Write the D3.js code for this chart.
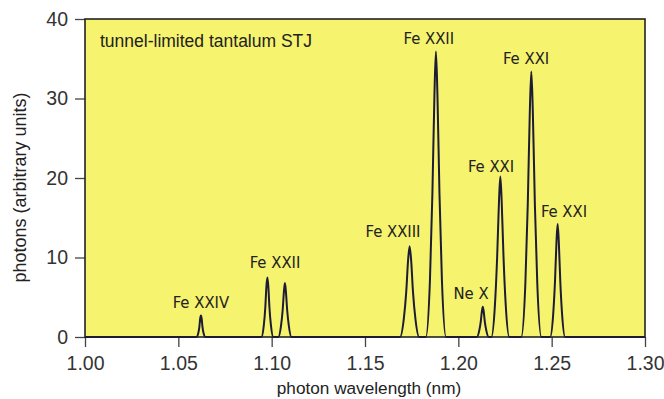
<!DOCTYPE html>
<html>
<head>
<meta charset="utf-8">
<script src="https://cdn.jsdelivr.net/npm/d3@7"></script>
<style>
    body { margin: 0; background: #ffffff; }
    svg { display: block; font-family: "Liberation Sans", Arial, sans-serif; }
</style>
</head>
<body>
<div id="chart"></div>
<script>
    // spectrum points (nm, arbitrary units)
    let wavelength = [
        1.0000,
        1.0597, 1.0607, 1.0613, 1.0617, 1.0621, 1.0625, 1.0629, 1.0635, 1.0645,
        1.0945, 1.0958, 1.0966, 1.0972, 1.0977, 1.0982, 1.0988, 1.0996, 1.1009,
        1.1036, 1.1050, 1.1059, 1.1066, 1.1071, 1.1076, 1.1083, 1.1092, 1.1106,
        1.1688, 1.1708, 1.1721, 1.1731, 1.1739, 1.1747, 1.1757, 1.1770, 1.1790,
        1.1826, 1.1848, 1.1861, 1.1872, 1.1880, 1.1888, 1.1899, 1.1912, 1.1934,
        1.2099, 1.2112, 1.2120, 1.2126, 1.2131, 1.2136, 1.2142, 1.2150, 1.2163,
        1.2177, 1.2196, 1.2208, 1.2218, 1.2225, 1.2232, 1.2242, 1.2254, 1.2273,
        1.2337, 1.2359, 1.2372, 1.2383, 1.2391, 1.2399, 1.2410, 1.2423, 1.2445,
        1.2492, 1.2508, 1.2518, 1.2526, 1.2532, 1.2538, 1.2546, 1.2556, 1.2572,
        1.3000
    ];
    let photons = [
        0,
        0, 0.5, 1.35, 2.3, 2.7, 2.3, 1.35, 0.5, 0,
        0, 1.5, 3.75, 6.4, 7.5, 6.4, 3.75, 1.5, 0,
        0, 1.4, 3.4, 5.8, 6.8, 5.8, 3.4, 1.4, 0,
        0, 2.3, 5.7, 9.7, 11.4, 9.7, 5.7, 2.3, 0,
        0, 7.2, 18, 30.5, 35.9, 30.5, 18, 7.2, 0,
        0, 0.8, 1.9, 3.2, 3.8, 3.2, 1.9, 0.8, 0,
        0, 4, 10.1, 17.2, 20.2, 17.2, 10.1, 4, 0,
        0, 6.7, 16.7, 28.4, 33.4, 28.4, 16.7, 6.7, 0,
        0, 2.8, 7.1, 12.1, 14.2, 12.1, 7.1, 2.8, 0,
        0
    ];

    // line labels and where they sit (label centre, baseline)
    let lineNames = ['Fe XXIV', 'Fe XXII', 'Fe XXIII', 'Fe XXII', 'Ne X', 'Fe XXI', 'Fe XXI', 'Fe XXI'];
    let lineLabelX = [1.0621, 1.1018, 1.1650, 1.1842, 1.2068, 1.2175, 1.2363, 1.2566];
    let lineLabelY = [3.65, 8.64, 12.54, 36.8, 4.74, 20.8, 34.4, 15.1];

    let xTicks = [1.00, 1.05, 1.10, 1.15, 1.20, 1.25, 1.30];
    let yTicks = [0, 10, 20, 30, 40];

    let title = 'tunnel-limited tantalum STJ';
    let xTitle = 'photon wavelength (nm)';
    let yTitle = 'photons (arbitrary units)';

    let width = 664;
    let height = 399;
    let margin = { top: 19, right: 19, bottom: 62, left: 85 };
    let innerW = width - margin.left - margin.right;
    let innerH = height - margin.top - margin.bottom;

    let svg = d3.select('#chart').append('svg')
        .attr('width', width)
        .attr('height', height);

    let g = svg.append('g')
        .attr('transform', 'translate(' + margin.left + ',' + margin.top + ')');

    let xScale = d3.scaleLinear()
        .domain([1.00, 1.30])
        .range([0, innerW]);
    let yScale = d3.scaleLinear()
        .domain([0, 40])
        .range([innerH, 0]);

    g.append('rect')
        .attr('x', 0)
        .attr('y', 0)
        .attr('width', innerW)
        .attr('height', innerH)
        .style('fill', '#f6f36e');

    let xAxis = d3.axisBottom(xScale)
        .tickValues(xTicks)
        .tickSize(10)
        .tickPadding(9)
        .tickFormat(d3.format('.2f'));
    let yAxis = d3.axisLeft(yScale)
        .tickValues(yTicks)
        .tickSize(10)
        .tickPadding(7)
        .tickFormat(d3.format('d'));

    let gx = g.append('g')
        .attr('transform', 'translate(0,' + innerH + ')')
        .call(xAxis);
    let gy = g.append('g')
        .call(yAxis);

    [gx, gy].forEach(function (axis) {
        axis.select('.domain').remove();
        axis.selectAll('.tick line')
            .style('stroke', '#444')
            .style('stroke-width', 1.3);
        axis.selectAll('.tick text')
            .style('font-size', '19.5px')
            .style('fill', '#333');
    });

    // frame round the plot area
    g.append('rect')
        .attr('x', 0)
        .attr('y', 0)
        .attr('width', innerW)
        .attr('height', innerH)
        .style('fill', 'none')
        .style('stroke', '#222')
        .style('stroke-width', 1.6);

    let spectrum = wavelength.map(function (w, i) {
        return { x: w, y: photons[i] };
    });

    let line = d3.line()
        .x(function (d) { return xScale(d.x); })
        .y(function (d) { return yScale(d.y); })
        .curve(d3.curveMonotoneX);

    g.append('path')
        .datum(spectrum)
        .attr('d', line)
        .style('fill', 'none')
        .style('stroke', '#1c1c34')
        .style('stroke-width', 2)
        .style('stroke-linejoin', 'round');

    g.selectAll('.line-label')
        .data(lineNames)
        .enter()
        .append('text')
        .attr('class', 'line-label')
        .attr('x', function (d, i) { return xScale(lineLabelX[i]); })
        .attr('y', function (d, i) { return yScale(lineLabelY[i]); })
        .attr('text-anchor', 'middle')
        .style('font-family', '"DejaVu Sans Condensed", sans-serif')
        .style('font-size', '16.5px')
        .style('fill', '#222')
        .text(function (d) { return d; });

    g.append('text')
        .attr('x', 15)
        .attr('y', 27.5)
        .style('font-size', '17.5px')
        .style('fill', '#222')
        .text(title);

    svg.append('text')
        .attr('x', margin.left + innerW / 2 + 4)
        .attr('y', 394)
        .attr('text-anchor', 'middle')
        .style('font-size', '17.2px')
        .style('fill', '#222')
        .text(xTitle);

    svg.append('text')
        .attr('transform', 'translate(26,' + 187.5 + ') rotate(-90)')
        .attr('text-anchor', 'middle')
        .style('font-size', '18px')
        .style('fill', '#222')
        .text(yTitle);
</script>
</body>
</html>
